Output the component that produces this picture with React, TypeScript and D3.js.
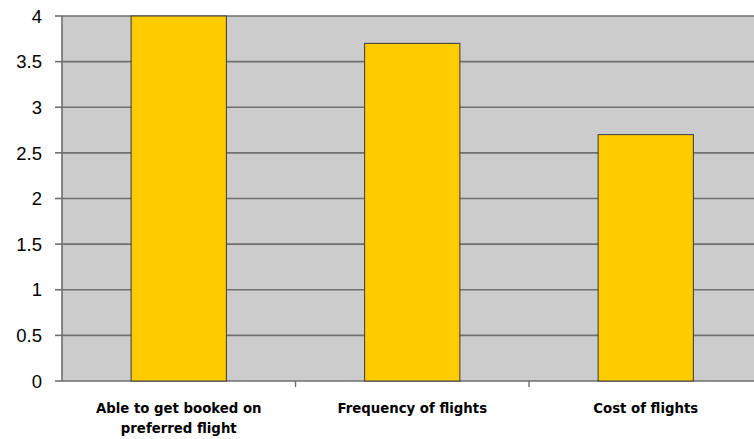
import React from "react";
import * as d3 from "d3";

const categories: string[][] = [
  ["Able to get booked on", "preferred flight"],
  ["Frequency of flights"],
  ["Cost of flights"],
];
const values: number[] = [4, 3.7, 2.7];
const yTicks: number[] = [0, 0.5, 1, 1.5, 2, 2.5, 3, 3.5, 4];

const W = 754;
const H = 439;
const left = 62;
const top = 16;
const bottom = 381;
const right = 62 + 3 * 233.5;

export default function App() {
  const x = d3
    .scaleBand<number>()
    .domain(d3.range(categories.length))
    .range([left, right])
    .paddingInner(0)
    .paddingOuter(0);
  const y = d3.scaleLinear().domain([0, 4]).range([bottom, top]);
  const bw = x.bandwidth() * 0.408;

  return (
    <svg
      width={W}
      height={H}
      style={{ position: "absolute", left: 0, top: 0, background: "#fff" }}
    >
      <rect x={left} y={top} width={right - left} height={bottom - top} fill="#cccccc" />
      {yTicks.map((t) => (
        <g key={t}>
          <line x1={left} x2={right} y1={y(t)} y2={y(t)} stroke="#6f6f6f" strokeWidth={1.6} />
          <line x1={left - 7} x2={left} y1={y(t)} y2={y(t)} stroke="#6f6f6f" strokeWidth={1.6} />
          <text
            x={42}
            y={y(t)}
            dy="0.36em"
            textAnchor="end"
            fontFamily="Liberation Sans, Arial, sans-serif"
            fontSize={18.5}
            fill="#000"
          >
            {t}
          </text>
        </g>
      ))}
      <line x1={left} x2={left} y1={top} y2={bottom} stroke="#6f6f6f" strokeWidth={1.6} />
      {d3.range(1, categories.length).map((i) => (
        <line
          key={i}
          x1={x(i)!}
          x2={x(i)!}
          y1={bottom}
          y2={bottom + 6}
          stroke="#6f6f6f"
          strokeWidth={1.4}
        />
      ))}
      {values.map((v, i) => {
        const cx = x(i)! + x.bandwidth() / 2;
        return (
          <rect
            key={i}
            x={cx - bw / 2}
            y={y(v)}
            width={bw}
            height={bottom - y(v)}
            fill="#ffcc00"
            stroke="#3a3a3a"
            strokeWidth={1}
          />
        );
      })}
      {categories.map((lines, i) => {
        const cx = x(i)! + x.bandwidth() / 2;
        return (
          <text
            key={i}
            textAnchor="middle"
            fontFamily="DejaVu Sans, sans-serif"
            fontWeight="bold"
            fontSize={13.3}
            fill="#000"
          >
            {lines.map((l, j) => (
              <tspan key={j} x={cx} y={413 + j * 20}>
                {l}
              </tspan>
            ))}
          </text>
        );
      })}
    </svg>
  );
}
